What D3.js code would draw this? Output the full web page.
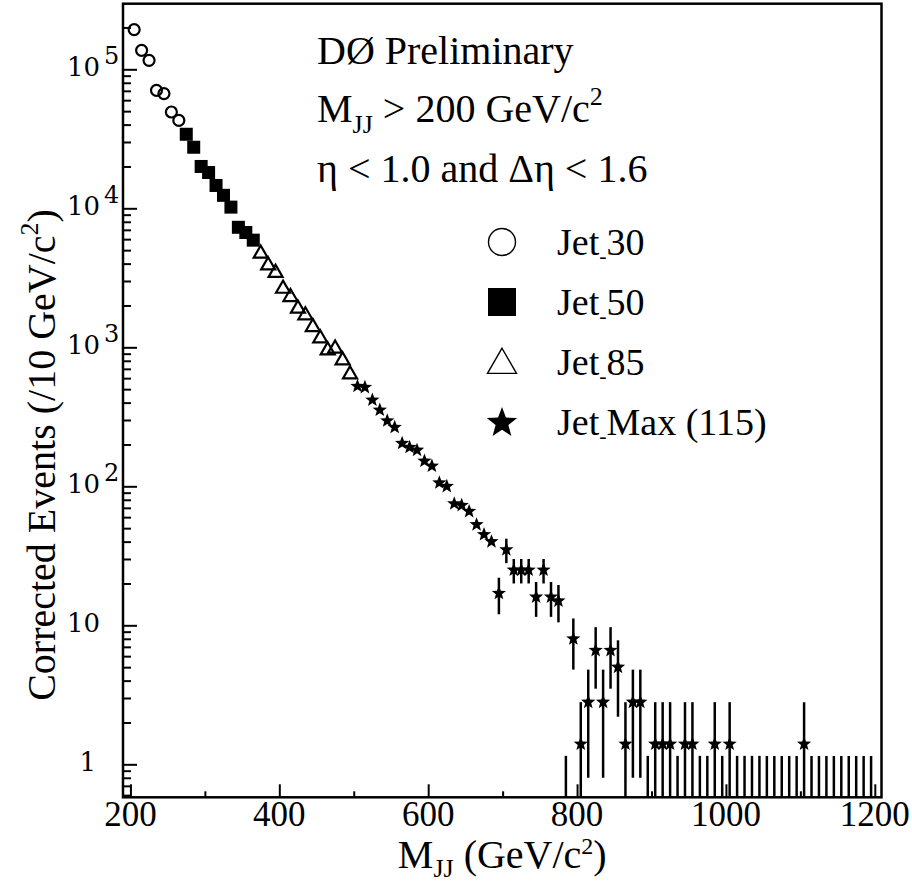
<!DOCTYPE html>
<html>
<head>
<meta charset="utf-8">
<script src="https://cdn.jsdelivr.net/npm/d3@7"></script>
<style>
  body { margin: 0; background: #fff; }
  svg { display: block; }
  text { font-family: "Liberation Serif", "Times New Roman", serif; fill: #000; }
</style>
</head>
<body>
<svg id="chart" width="912" height="888"></svg>
<script>

// dijet mass bins (GeV/c^2) and corrected events per 10 GeV
var jet30Mass = [205, 215, 225, 235, 245, 255, 265];
var jet30Val  = [1.93e5, 1.37e5, 1.16e5, 7.06e4, 6.69e4, 4.93e4, 4.29e4];

var jet50Mass = [275, 285, 295, 305, 315, 325, 335, 345, 355, 365];
var jet50Val  = [3.41e4, 2.75e4, 2.0e4, 1.81e4, 1.46e4, 1.24e4, 1.02e4, 7300, 6700, 5900];

var jet85Mass = [375, 385, 395, 405, 415, 425, 435, 445, 455, 465, 475, 485, 495];
var jet85Val  = [4720, 3890, 3430, 2640, 2300, 1900, 1700, 1400, 1160, 951, 979, 806, 639];

var jetMaxMass = [505, 515, 525, 535, 545, 555, 565, 575, 585, 595, 605, 615, 625, 635, 645, 655, 665,
                  675, 685, 695, 705, 715, 725, 735, 745, 755, 765, 775, 795,
                  805, 815, 825, 835, 845, 855, 865, 875, 885, 905, 915, 925, 945, 955, 985, 1005, 1105];
var jetMaxVal  = [525, 515, 418, 354, 296, 266, 204, 191, 182, 152, 140, 106, 100, 75, 73, 66, 53,
                  45, 40, 17, 35, 25, 25, 25, 16, 25, 16, 15, 8,
                  1.4, 2.8, 6.6, 2.8, 6.6, 5, 1.4, 2.8, 2.8, 1.4, 1.4, 1.4, 1.4, 1.4, 1.4, 1.4, 1.4];
var jetMaxErr  = [0, 0, 0, 0, 0, 0, 0, 0, 0, 0, 0, 0, 0, 0, 0, 0, 0,
                  0, 0, 5, 7, 5, 5, 5, 4.5, 5, 4.5, 4.5, 3.2,
                  1.4, 2, 3.1, 2, 3.1, 2.8, 1.4, 2, 2, 1.4, 1.4, 1.4, 1.4, 1.4, 1.4, 1.4, 1.4];

// empty bins: only an upper error bar is drawn
var emptyMass = [785, 895, 935, 965, 975, 995, 1015, 1025, 1035, 1045, 1055, 1065, 1075, 1085, 1095,
                 1115, 1125, 1135, 1145, 1155, 1165, 1175, 1185, 1195];
var emptyLimit = 1.15;

var xTicksMajor = [200, 400, 600, 800, 1000, 1200];
var xTicksMinor = [300, 500, 700, 900, 1100];
var yDecades = [0, 1, 2, 3, 4, 5];

var legendNames = ["30", "50", "85", "Max (115)"];

var svg = d3.select("#chart");

var plot = {left: 123, right: 881.5, top: 3.7, bottom: 797.3};

var x = d3.scaleLinear().domain([190, 1209]).range([plot.left, plot.right]);
var y = d3.scaleLog().domain([0.579, 2.965e5]).range([plot.bottom, plot.top]);

svg.append("clipPath").attr("id", "clip")
    .append("rect")
    .attr("x", plot.left).attr("y", plot.top)
    .attr("width", plot.right - plot.left).attr("height", plot.bottom - plot.top);

// ---- axes (ticks pointing inwards)
var xMaj = svg.append("g")
    .attr("transform", "translate(0," + plot.bottom + ")")
    .call(d3.axisBottom(x).tickValues(xTicksMajor).tickSize(-13).tickFormat(""));
var xMin = svg.append("g")
    .attr("transform", "translate(0," + plot.bottom + ")")
    .call(d3.axisBottom(x).tickValues(xTicksMinor).tickSize(-6).tickFormat(""));

var yMajorVals = yDecades.map(function(e) { return Math.pow(10, e); });
var yMinorVals = y.ticks().filter(function(v) {
    return yMajorVals.indexOf(v) < 0;
});
var yMaj = svg.append("g")
    .attr("transform", "translate(" + plot.left + ",0)")
    .call(d3.axisLeft(y).tickValues(yMajorVals).tickSize(-14).tickFormat(""));
var yMin = svg.append("g")
    .attr("transform", "translate(" + plot.left + ",0)")
    .call(d3.axisLeft(y).tickValues(yMinorVals).tickSize(-8).tickFormat(""));

[xMaj, xMin, yMaj, yMin].forEach(function(g) {
    g.select(".domain").remove();
    g.selectAll("line").attr("stroke", "#000").attr("stroke-width", 2);
});

// x labels
svg.selectAll(".xlab")
    .data(xTicksMajor)
    .enter().append("text")
    .attr("class", "xlab")
    .attr("x", function(d) { return x(d); })
    .attr("y", 826)
    .attr("text-anchor", "middle")
    .style("font-size", "35px")
    .text(function(d) { return d; });

// y labels: 1, 10, 10^2 ...
yDecades.forEach(function(e) {
    var yy = y(Math.pow(10, e));
    var t = svg.append("text")
        .attr("y", yy + 7)
        .style("font-family", "'DejaVu Serif', serif")
        .style("font-size", "26px");
    if (e === 0) {
        t.attr("x", 96).attr("text-anchor", "end").text("1");
    } else {
        t.attr("x", 100).attr("text-anchor", "end").text("10");
        if (e > 1) {
            svg.append("text")
                .attr("x", 104).attr("y", yy - 5)
                .style("font-family", "'DejaVu Serif', serif")
                .style("font-size", "24px")
                .text(e);
        }
    }
});

// axis titles
var xt = svg.append("text")
    .attr("x", (plot.left + plot.right) / 2)
    .attr("y", 868)
    .attr("text-anchor", "middle")
    .style("font-size", "40px");
xt.append("tspan").text("M");
xt.append("tspan").attr("dy", 9).style("font-size", "26px").text("JJ");
xt.append("tspan").attr("dy", -9).text(" (GeV/c");
xt.append("tspan").attr("dy", -14).style("font-size", "24px").text("2");
xt.append("tspan").attr("dy", 14).text(")");

var yt = svg.append("text")
    .attr("transform", "translate(55," + 455 + ") rotate(-90)")
    .attr("text-anchor", "middle")
    .style("font-size", "40px");
yt.append("tspan").text("Corrected Events (/10 GeV/c");
yt.append("tspan").attr("dy", -17).style("font-size", "26px").text("2");
yt.append("tspan").attr("dy", 17).text(")");

// ---- data
var data = svg.append("g").attr("clip-path", "url(#clip)");

function pts(mass, vals) {
    return mass.map(function(m, i) { return {m: m, v: vals[i]}; });
}

var triPath = function(s) {
    var h = s * Math.sqrt(3) / 2;
    return "M0," + (-h * 2 / 3) + "L" + (s / 2) + "," + (h / 3) + "L" + (-s / 2) + "," + (h / 3) + "Z";
};
var starPath = function(r) {
    var p = [];
    for (var k = 0; k < 10; k++) {
        var rr = k % 2 === 0 ? r : r * 0.42;
        var a = -Math.PI / 2 + k * Math.PI / 5;
        p.push((rr * Math.cos(a)).toFixed(2) + "," + (rr * Math.sin(a)).toFixed(2));
    }
    return "M" + p.join("L") + "Z";
};

// error bars
var maxPts = jetMaxMass.map(function(m, i) { return {m: m, v: jetMaxVal[i], e: jetMaxErr[i]}; });
data.selectAll(".err")
    .data(maxPts.filter(function(d) { return d.e > 0; }))
    .enter().append("line")
    .attr("x1", function(d) { return x(d.m); })
    .attr("x2", function(d) { return x(d.m); })
    .attr("y1", function(d) { return d.v - d.e > 0 ? y(d.v - d.e) : plot.bottom; })
    .attr("y2", function(d) { return y(d.v + d.e); })
    .attr("stroke", "#000").attr("stroke-width", 2.5);

data.selectAll(".empty")
    .data(emptyMass)
    .enter().append("line")
    .attr("x1", function(d) { return x(d); })
    .attr("x2", function(d) { return x(d); })
    .attr("y1", plot.bottom)
    .attr("y2", y(emptyLimit))
    .attr("stroke", "#000").attr("stroke-width", 2.5);

data.selectAll(".c30")
    .data(pts(jet30Mass, jet30Val))
    .enter().append("circle")
    .attr("cx", function(d) { return x(d.m); })
    .attr("cy", function(d) { return y(d.v); })
    .attr("r", 5.5)
    .attr("fill", "none").attr("stroke", "#000").attr("stroke-width", 2.2);

data.selectAll(".s50")
    .data(pts(jet50Mass, jet50Val))
    .enter().append("rect")
    .attr("x", function(d) { return x(d.m) - 6.5; })
    .attr("y", function(d) { return y(d.v) - 6.5; })
    .attr("width", 13).attr("height", 13)
    .attr("fill", "#000");

data.selectAll(".t85")
    .data(pts(jet85Mass, jet85Val))
    .enter().append("path")
    .attr("transform", function(d) { return "translate(" + x(d.m) + "," + y(d.v) + ")"; })
    .attr("d", triPath(14))
    .attr("fill", "none").attr("stroke", "#000").attr("stroke-width", 2.2);

data.selectAll(".sMax")
    .data(maxPts)
    .enter().append("path")
    .attr("transform", function(d) { return "translate(" + x(d.m) + "," + y(d.v) + ")"; })
    .attr("d", starPath(7.5))
    .attr("fill", "#000");

// frame
svg.append("rect")
    .attr("x", plot.left).attr("y", plot.top)
    .attr("width", plot.right - plot.left).attr("height", plot.bottom - plot.top)
    .attr("fill", "none").attr("stroke", "#000").attr("stroke-width", 2.5);

// ---- text block
var tx = 317;
svg.append("text").attr("x", tx).attr("y", 64).style("font-size", "40px").text("DØ Preliminary");

var l2 = svg.append("text").attr("x", tx).attr("y", 122).style("font-size", "40px");
l2.append("tspan").text("M");
l2.append("tspan").attr("dy", 11).style("font-size", "26px").text("JJ");
l2.append("tspan").attr("dy", -11).text(" > 200 GeV/c");
l2.append("tspan").attr("dy", -17).style("font-size", "26px").text("2");

svg.append("text").attr("x", tx).attr("y", 182).style("font-size", "40px")
    .text("η < 1.0 and Δη < 1.6");

// ---- legend
var lgX = 502, lgTextX = 557, lgY0 = 242, lgDy = 60;
var lg = svg.append("g");
lg.append("circle").attr("cx", lgX).attr("cy", lgY0).attr("r", 13.5)
    .attr("fill", "none").attr("stroke", "#000").attr("stroke-width", 1.4);
lg.append("rect").attr("x", lgX - 14).attr("y", lgY0 + lgDy - 14).attr("width", 28).attr("height", 28)
    .attr("fill", "#000");
lg.append("path").attr("transform", "translate(" + lgX + "," + (lgY0 + 2 * lgDy + 3) + ")")
    .attr("d", triPath(29)).attr("fill", "none").attr("stroke", "#000").attr("stroke-width", 1.4);
lg.append("path").attr("transform", "translate(" + lgX + "," + (lgY0 + 3 * lgDy + 1) + ")")
    .attr("d", starPath(16)).attr("fill", "#000");

legendNames.forEach(function(n, i) {
    var t = lg.append("text").attr("x", lgTextX).attr("y", lgY0 + i * lgDy + 13).style("font-size", "38px");
    t.append("tspan").text("Jet");
    t.append("tspan").attr("dy", 8).style("font-size", "22px").text("-");
    t.append("tspan").attr("dy", -8).text(n);
});

</script>
</body>
</html>
